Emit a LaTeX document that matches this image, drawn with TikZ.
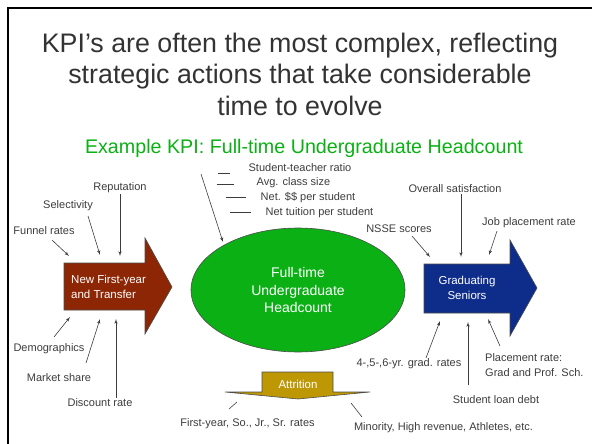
\documentclass[tikz,border=0pt]{standalone}
\usepackage{fontspec}
\setmainfont{Liberation Sans}
\usetikzlibrary{calc, arrows, shapes.geometric}
\definecolor{kpibrown}{RGB}{140,38,4}
\definecolor{kpigreen}{RGB}{10,176,20}
\definecolor{kpiblue}{RGB}{14,44,138}
\definecolor{kpigold}{RGB}{190,152,4}
\definecolor{kpigray}{RGB}{60,60,60}
\tikzstyle{lbl}=[text=kpigray, font=\fontsize{11}{15}\selectfont, inner sep=1pt]
\tikzstyle{inside}=[text=white, font=\fontsize{11.5}{15}\selectfont, inner sep=0pt]
\tikzstyle{feed}=[draw=kpigray, line width=0.6pt]
\tikzstyle{blockarrow}=[draw=black!70, line width=0.6pt]
\tikzstyle{head}=[anchor=base, text=black!80, font=\fontsize{26.8}{31}\selectfont]

\begin{document}
\begin{tikzpicture}[x=1pt,y=-1pt,>=latex']
      \useasboundingbox (0,0) rectangle (592,444);
      \draw[line width=2pt] (8,444) -- (8,8) -- (592,8);

      % title
      \node [head] (title1) at (300,53) {KPI’s are often the most complex, reflecting};
      \node [head] (title2) at (300,84) {strategic actions that take considerable};
      \node [head] (title3) at (300,115) {time to evolve};
      \node [anchor=base, text=kpigreen, font=\fontsize{19.7}{22}\selectfont] (sub) at (304,153)
            {Example KPI: Full-time Undergraduate Headcount};

      % incoming students
      \draw [blockarrow, fill=kpibrown] (64,263) -- (145,263) -- (145,238) -- (172,287)
            -- (145,334) -- (145,310) -- (64,310) -- cycle;
      \node [inside, anchor=west, align=left] (new) at (71,287) {New First-year\\and Transfer};

      \node [lbl] (rep) at (120,188) {Reputation};
      \node [lbl] (sel) at (68,206) {Selectivity};
      \node [lbl] (fun) at (44,231) {Funnel rates};
      \node [lbl] (dem) at (49,349) {Demographics};
      \node [lbl] (mkt) at (59,378) {Market share};
      \node [lbl] (dis) at (100,403) {Discount rate};
      \coordinate (rep-e) at (120,256);
      \coordinate (sel-e) at (100,255);
      \coordinate (fun-e) at (69,256);
      \coordinate (dem-e) at (70,317);
      \coordinate (mkt-e) at (100,319);
      \coordinate (dis-e) at (116,319);
      \draw [feed,->] (rep.south) -- (rep-e);
      \draw [feed,->] (88,216) -- (sel-e);
      \draw [feed,->] (52,240) -- (fun-e);
      \draw [feed,->] (54,337) -- (dem-e);
      \draw [feed,->] (86,363) -- (mkt-e);
      \draw [feed,->] (dis.north -| dis-e) -- (dis-e);

      % headcount
      \node [ellipse, draw=black!70, line width=0.6pt, fill=kpigreen, minimum width=214pt,
             minimum height=124pt, text=white, align=center,
             font=\fontsize{14}{17.5}\selectfont] (hc) at (298,290)
            {Full-time\\Undergraduate\\Headcount};

      \node [lbl] (str) at (300,168) {Student-teacher ratio};
      \node [lbl] (cls) at (293.5,183) {Avg. class size};
      \node [lbl] (net) at (308,198) {Net. \$\$ per student};
      \node [lbl] (tui) at (319.5,213) {Net tuition per student};
      \draw [feed] ($(str.west)+(-29,5)$) -- ++(12,0);
      \draw [feed] ($(cls.west)+(-39,1)$) -- ++(17,0);
      \draw [feed] ($(net.west)+(-34,-1)$) -- ++(20,0);
      \draw [feed] ($(tui.west)+(-34,-1)$) -- ++(21,0);
      \coordinate (hc-in) at (223,242);
      \draw [feed,->] (201,174) -- (hc-in);

      % graduating seniors
      \draw [blockarrow, fill=kpiblue] (424,264) -- (510,264) -- (510,240) -- (537,288)
            -- (510,336) -- (510,313) -- (424,313) -- cycle;
      \node [inside, align=center] (grad) at (467,288) {Graduating\\Seniors};

      \node [lbl] (nsse) at (399,229) {NSSE scores};
      \node [lbl] (sat) at (455,189) {Overall satisfaction};
      \node [lbl] (job) at (529,223) {Job placement rate};
      \node [lbl] (rates) at (409,364) {4-,5-,6-yr. grad. rates};
      \node [lbl] (debt) at (496,400) {Student loan debt};
      \node [lbl, anchor=west, align=left, font=\fontsize{11}{15}\selectfont] (place) at (484,365.5)
            {Placement rate:\\Grad and Prof. Sch.};
      \coordinate (nsse-e) at (430,257);
      \coordinate (sat-e) at (461,257);
      \coordinate (job-e) at (489,255);
      \coordinate (rates-e) at (440,321);
      \coordinate (debt-e) at (468,322);
      \coordinate (place-e) at (488,319);
      \draw [feed,->] (412,236) -- (nsse-e);
      \draw [feed,->] (sat.south -| sat-e) -- (sat-e);
      \draw [feed,->] (497,231) -- (job-e);
      \draw [feed,->] (426,358) -- (rates-e);
      \draw [feed,->] (468,385) -- (debt-e);
      \draw [feed,->] (500,346) -- (place-e);

      % attrition
      \draw [blockarrow, fill=kpigold] (262,372) -- (333,372) -- (333,392) -- (370,392)
            -- (298,399) -- (225,392) -- (262,392) -- cycle;
      \node [inside] (att) at (298,384) {Attrition};
      \node [lbl] (yr) at (247.5,424) {First-year, So., Jr., Sr. rates};
      \node [lbl] (min) at (443.5,428) {Minority, High revenue, Athletes, etc.};
      \draw [feed] (229,409) -- (237,402);
      \draw [feed] (351,403) -- (362,417);
\end{tikzpicture}
\end{document}
